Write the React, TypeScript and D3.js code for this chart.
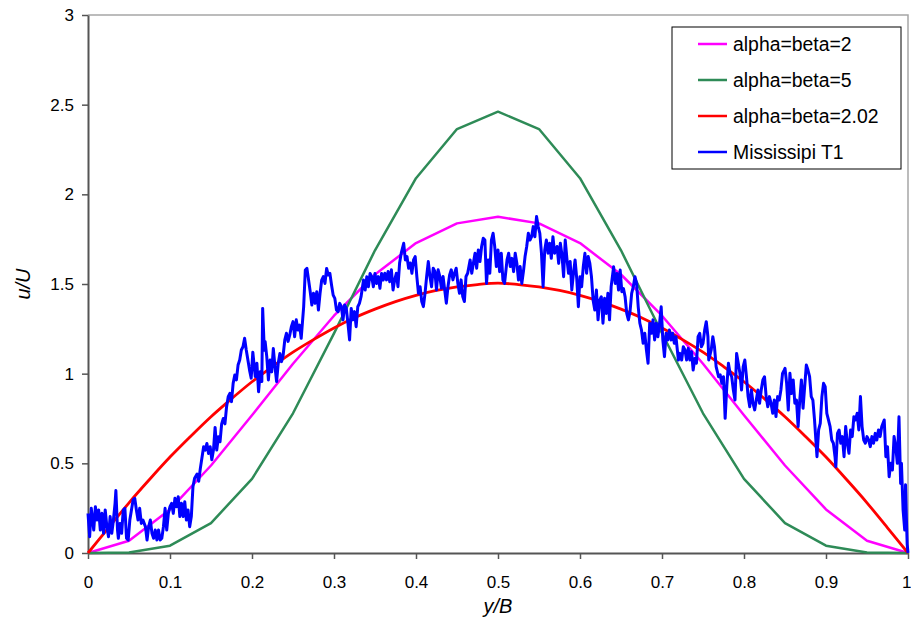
import * as d3 from "d3";
import { useEffect, useRef } from "react";

// beta profiles, read at the points they were plotted on
const betaX = [0, 0.05, 0.1, 0.15, 0.2, 0.25, 0.3, 0.35, 0.4, 0.45, 0.5, 0.55, 0.6, 0.65, 0.7, 0.75, 0.8, 0.85, 0.9, 0.95, 1];
const alpha2 = [0, 0.068, 0.243, 0.488, 0.768, 1.055, 1.323, 1.553, 1.728, 1.838, 1.875, 1.838, 1.728, 1.553, 1.323, 1.055, 0.768, 0.488, 0.243, 0.068, 0];
const alpha5 = [0, 0.003, 0.041, 0.167, 0.413, 0.779, 1.225, 1.688, 2.09, 2.364, 2.461, 2.364, 2.09, 1.688, 1.225, 0.779, 0.413, 0.167, 0.041, 0.003, 0];

const fitX = [0, 0.025, 0.05, 0.075, 0.1, 0.125, 0.15, 0.175, 0.2, 0.225, 0.25, 0.275, 0.3, 0.325, 0.35, 0.375, 0.4, 0.425, 0.45, 0.475, 0.5,
  0.525, 0.55, 0.575, 0.6, 0.625, 0.65, 0.675, 0.7, 0.725, 0.75, 0.775, 0.8, 0.825, 0.85, 0.875, 0.9, 0.925, 0.95, 0.975, 1];
const alpha202 = [0, 0.14, 0.28, 0.41, 0.535, 0.65, 0.76, 0.86, 0.955, 1.04, 1.12, 1.19, 1.255, 1.312, 1.36, 1.402, 1.437, 1.464, 1.484, 1.497, 1.505,
  1.497, 1.484, 1.464, 1.437, 1.402, 1.36, 1.312, 1.255, 1.19, 1.12, 1.04, 0.955, 0.86, 0.76, 0.65, 0.535, 0.41, 0.28, 0.14, 0];

// measured profile [y/B, u/U]
const mississippi: [number, number][] = [
  [0, 0.221], [0.002, 0.091], [0.004, 0.249], [0.007, 0.128], [0.009, 0.258], [0.011, 0.184], [0.013, 0.24], [0.015, 0.128], [0.017, 0.221], [0.019, 0.11],
  [0.021, 0.24], [0.023, 0.147], [0.025, 0.091], [0.027, 0.203], [0.029, 0.11], [0.031, 0.184], [0.033, 0.277], [0.034, 0.348], [0.036, 0.128], [0.037, 0.082],
  [0.039, 0.165], [0.041, 0.11], [0.043, 0.24], [0.045, 0.249], [0.047, 0.082], [0.049, 0.072], [0.051, 0.184], [0.053, 0.24], [0.055, 0.296], [0.057, 0.305],
  [0.059, 0.24], [0.061, 0.184], [0.063, 0.249], [0.065, 0.165], [0.067, 0.184], [0.07, 0.147], [0.072, 0.072], [0.074, 0.147], [0.076, 0.184], [0.078, 0.11],
  [0.08, 0.082], [0.082, 0.128], [0.084, 0.072], [0.086, 0.128], [0.088, 0.072], [0.09, 0.082], [0.092, 0.147], [0.094, 0.249], [0.096, 0.128], [0.098, 0.221],
  [0.1, 0.258], [0.102, 0.277], [0.104, 0.221], [0.106, 0.305], [0.108, 0.258], [0.11, 0.314], [0.112, 0.203], [0.114, 0.277], [0.116, 0.203], [0.118, 0.286],
  [0.12, 0.184], [0.122, 0.24], [0.124, 0.147], [0.126, 0.203], [0.128, 0.37], [0.13, 0.417], [0.133, 0.44], [0.135, 0.4],
  [0.137, 0.472], [0.141, 0.593], [0.143, 0.574], [0.145, 0.611], [0.147, 0.555], [0.149, 0.593], [0.151, 0.52], [0.153, 0.574], [0.155, 0.7], [0.157, 0.574],
  [0.159, 0.648], [0.161, 0.62], [0.163, 0.72], [0.165, 0.75], [0.167, 0.72], [0.169, 0.816], [0.171, 0.872], [0.173, 0.89], [0.175, 0.844], [0.177, 0.946],
  [0.179, 0.993], [0.181, 0.965], [0.183, 1.048], [0.185, 1.076], [0.187, 1.132], [0.189, 1.15], [0.191, 1.197], [0.193, 1.132], [0.195, 1.076], [0.197, 1.02],
  [0.199, 0.975], [0.201, 1.12], [0.204, 0.984], [0.206, 1.058], [0.208, 0.899], [0.21, 1.01], [0.212, 0.956], [0.213, 1.364], [0.215, 1.13], [0.216, 1.18],
  [0.218, 1.095], [0.22, 0.965], [0.222, 1.076], [0.224, 1.01], [0.226, 1.14], [0.228, 1.04], [0.23, 0.956], [0.232, 1.058], [0.234, 1.113], [0.236, 1.067],
  [0.238, 1.104], [0.24, 1.188], [0.242, 1.225], [0.244, 1.18], [0.246, 1.215], [0.248, 1.262], [0.25, 1.29], [0.252, 1.206], [0.254, 1.3], [0.256, 1.243],
  [0.258, 1.271], [0.26, 1.197], [0.263, 1.373], [0.265, 1.578], [0.267, 1.587], [0.269, 1.522], [0.271, 1.457], [0.273, 1.383], [0.275, 1.448], [0.277, 1.392],
  [0.279, 1.457], [0.281, 1.355], [0.283, 1.448], [0.285, 1.522], [0.287, 1.541], [0.289, 1.503], [0.291, 1.587], [0.293, 1.55], [0.295, 1.559], [0.297, 1.494],
  [0.299, 1.438], [0.301, 1.42], [0.303, 1.355], [0.305, 1.346], [0.307, 1.392], [0.309, 1.373], [0.311, 1.3], [0.313, 1.383], [0.315, 1.364], [0.317, 1.281],
  [0.319, 1.188], [0.321, 1.364], [0.323, 1.3], [0.325, 1.346], [0.327, 1.262], [0.329, 1.373], [0.331, 1.392], [0.333, 1.429], [0.336, 1.522], [0.338, 1.466],
  [0.34, 1.541], [0.342, 1.485], [0.344, 1.559], [0.346, 1.541], [0.348, 1.485], [0.35, 1.559], [0.352, 1.503], [0.354, 1.541], [0.356, 1.476], [0.358, 1.559],
  [0.36, 1.522], [0.362, 1.56], [0.364, 1.523], [0.366, 1.57], [0.368, 1.513], [0.37, 1.579], [0.372, 1.467], [0.374, 1.523], [0.376, 1.56], [0.378, 1.485],
  [0.38, 1.617], [0.382, 1.672], [0.385, 1.727], [0.387, 1.634], [0.389, 1.653], [0.391, 1.588], [0.393, 1.617], [0.395, 1.56], [0.397, 1.634], [0.399, 1.653],
  [0.401, 1.542], [0.403, 1.448], [0.405, 1.485], [0.407, 1.402], [0.409, 1.374], [0.411, 1.448], [0.413, 1.542], [0.415, 1.625], [0.417, 1.542], [0.419, 1.485],
  [0.421, 1.588], [0.423, 1.57], [0.425, 1.467], [0.427, 1.579], [0.429, 1.542], [0.431, 1.476], [0.433, 1.542], [0.435, 1.467], [0.437, 1.393], [0.439, 1.485],
  [0.441, 1.551], [0.443, 1.579], [0.445, 1.523], [0.447, 1.56], [0.449, 1.588], [0.451, 1.504], [0.453, 1.448], [0.455, 1.523], [0.457, 1.43], [0.459, 1.402],
  [0.461, 1.542], [0.463, 1.56], [0.466, 1.634], [0.468, 1.56], [0.47, 1.617], [0.472, 1.672], [0.474, 1.588], [0.476, 1.69], [0.478, 1.625], [0.48, 1.709],
  [0.482, 1.755], [0.484, 1.745], [0.486, 1.503], [0.488, 1.634], [0.49, 1.56], [0.492, 1.745], [0.494, 1.783], [0.496, 1.709], [0.498, 1.597], [0.5, 1.69],
  [0.502, 1.569], [0.504, 1.672], [0.506, 1.522], [0.508, 1.503], [0.511, 1.634], [0.513, 1.672], [0.515, 1.597], [0.517, 1.643], [0.519, 1.569], [0.521, 1.672],
  [0.523, 1.615], [0.525, 1.522], [0.527, 1.597], [0.529, 1.503], [0.531, 1.569], [0.533, 1.653], [0.535, 1.709], [0.537, 1.783], [0.539, 1.745], [0.541, 1.764],
  [0.543, 1.82], [0.545, 1.764], [0.547, 1.876], [0.549, 1.82], [0.551, 1.783], [0.553, 1.672], [0.555, 1.485], [0.557, 1.69], [0.559, 1.745], [0.561, 1.672],
  [0.563, 1.727], [0.565, 1.643], [0.567, 1.764], [0.569, 1.672], [0.572, 1.709], [0.574, 1.615], [0.576, 1.727], [0.578, 1.662], [0.58, 1.541], [0.582, 1.745],
  [0.584, 1.643], [0.586, 1.56], [0.588, 1.625], [0.59, 1.467], [0.592, 1.56], [0.594, 1.634], [0.596, 1.532], [0.598, 1.373], [0.6, 1.541], [0.602, 1.485],
  [0.604, 1.597], [0.606, 1.671], [0.608, 1.56], [0.61, 1.653], [0.612, 1.615], [0.614, 1.54], [0.616, 1.41], [0.618, 1.355], [0.62, 1.466], [0.622, 1.3],
  [0.624, 1.41], [0.626, 1.429], [0.628, 1.281], [0.63, 1.42], [0.632, 1.336], [0.634, 1.448], [0.636, 1.3], [0.638, 1.485], [0.641, 1.596], [0.643, 1.503],
  [0.645, 1.559], [0.647, 1.466], [0.649, 1.578], [0.651, 1.457], [0.653, 1.475], [0.655, 1.429], [0.657, 1.336], [0.659, 1.3], [0.661, 1.346], [0.663, 1.448],
  [0.665, 1.485], [0.667, 1.541], [0.669, 1.503], [0.671, 1.373], [0.673, 1.281], [0.675, 1.243], [0.677, 1.169], [0.679, 1.225], [0.681, 1.132], [0.683, 1.058],
  [0.685, 1.281], [0.687, 1.225], [0.689, 1.3], [0.691, 1.188], [0.693, 1.281], [0.695, 1.206], [0.697, 1.281], [0.699, 1.373], [0.701, 1.188], [0.703, 1.095],
  [0.705, 1.225], [0.707, 1.188], [0.709, 1.243], [0.711, 1.188], [0.713, 1.225], [0.715, 1.169], [0.717, 1.206], [0.72, 1.076], [0.722, 1.113], [0.724, 1.076],
  [0.726, 1.15], [0.728, 1.132], [0.73, 1.076], [0.732, 1.141], [0.734, 1.076], [0.736, 1.123], [0.738, 1.02], [0.74, 1.085], [0.742, 1.058], [0.744, 1.206],
  [0.746, 1.225], [0.748, 1.15], [0.75, 1.169], [0.752, 1.243], [0.754, 1.29], [0.756, 1.206], [0.757, 1.076], [0.76, 1.132], [0.762, 1.206], [0.764, 1.15],
  [0.766, 1.039], [0.769, 0.983], [0.771, 0.993], [0.773, 0.946], [0.775, 0.983], [0.777, 0.751], [0.779, 0.928], [0.781, 1.058], [0.783, 1.002], [0.785, 0.983],
  [0.787, 0.909], [0.789, 0.853], [0.791, 1.113], [0.793, 1.058], [0.795, 1.002], [0.797, 0.909], [0.799, 1.039], [0.801, 1.076], [0.803, 0.983], [0.805, 0.872],
  [0.807, 0.816], [0.809, 0.909], [0.811, 0.835], [0.813, 0.798], [0.815, 0.853], [0.817, 0.909], [0.819, 0.835], [0.821, 0.909], [0.823, 0.965], [0.825, 0.983],
  [0.827, 0.872], [0.829, 0.816], [0.831, 0.872], [0.833, 0.835], [0.835, 0.779], [0.837, 0.853], [0.839, 0.761], [0.841, 0.872], [0.843, 0.853], [0.845, 0.909],
  [0.847, 1.002], [0.849, 1.02], [0.85, 1.03], [0.852, 0.946], [0.854, 0.797], [0.856, 1.002], [0.858, 0.89], [0.86, 0.965], [0.862, 0.835], [0.864, 0.853],
  [0.866, 0.705], [0.868, 0.853], [0.87, 0.965], [0.872, 0.807], [0.874, 0.928], [0.876, 1.048], [0.878, 1.02], [0.88, 0.983], [0.882, 0.872], [0.884, 0.853],
  [0.886, 0.742], [0.889, 0.537], [0.891, 0.686], [0.893, 0.723], [0.895, 0.872], [0.897, 0.946], [0.899, 0.928], [0.901, 0.779], [0.903, 0.742], [0.905, 0.705],
  [0.907, 0.63], [0.909, 0.612], [0.911, 0.537], [0.912, 0.481], [0.914, 0.667], [0.916, 0.686], [0.918, 0.612], [0.92, 0.649], [0.922, 0.537], [0.924, 0.705],
  [0.926, 0.612], [0.928, 0.556], [0.93, 0.686], [0.932, 0.649], [0.934, 0.76], [0.936, 0.742], [0.938, 0.779], [0.94, 0.686], [0.942, 0.872], [0.944, 0.705],
  [0.946, 0.63], [0.948, 0.612], [0.95, 0.649], [0.952, 0.63], [0.954, 0.593], [0.956, 0.649], [0.958, 0.612], [0.96, 0.667], [0.962, 0.63], [0.964, 0.686],
  [0.966, 0.649], [0.968, 0.705], [0.971, 0.742], [0.973, 0.537], [0.975, 0.593], [0.977, 0.425], [0.979, 0.5], [0.981, 0.463], [0.983, 0.649], [0.985, 0.593],
  [0.987, 0.5], [0.989, 0.76], [0.991, 0.388], [0.992, 0.5], [0.994, 0.24], [0.996, 0.128], [0.997, 0.38], [0.998, 0.2], [0.999, 0.05], [1, 0],
];

const xTicks = [0, 0.1, 0.2, 0.3, 0.4, 0.5, 0.6, 0.7, 0.8, 0.9, 1];
const yTicks = [0, 0.5, 1, 1.5, 2, 2.5, 3];

const legendNames = ["alpha=beta=2", "alpha=beta=5", "alpha=beta=2.02", "Mississipi T1"];
const colors = ["#ff00ff", "#2e8b57", "#ff0000", "#0000ff"];

const FONT = "'Liberation Sans', Arial, sans-serif";

const App = () => {
  const ref = useRef<SVGSVGElement>(null);

  useEffect(() => {
    const W = 911, H = 621;
    const margin = { top: 15, right: 3, bottom: 68, left: 88 };
    const width = W - margin.left - margin.right;
    const height = H - margin.top - margin.bottom;

    const root = d3.select(ref.current);
    root.selectAll("*").remove();
    const svg = root.append("g").attr("transform", `translate(${margin.left},${margin.top})`);

    const x = d3.scaleLinear().domain([0, 1]).range([0, width]);
    const y = d3.scaleLinear().domain([0, 3]).range([height, 0]);

    // light frame top / right
    svg.append("path")
      .attr("d", `M0,0H${width}V${height}`)
      .attr("fill", "none")
      .attr("stroke", "#a6a6a6")
      .attr("stroke-width", 1.5);

    const xAxis = svg.append("g")
      .attr("transform", `translate(0,${height})`)
      .call(d3.axisBottom(x).tickValues(xTicks).tickSize(6).tickSizeOuter(0).tickPadding(17).tickFormat((d) => String(d)));
    const yAxis = svg.append("g")
      .call(d3.axisLeft(y).tickValues(yTicks).tickSize(6).tickSizeOuter(0).tickPadding(8).tickFormat((d) => String(d)));

    [xAxis, yAxis].forEach((a) => {
      a.select(".domain").attr("stroke", "#555").attr("stroke-width", 2);
      a.selectAll(".tick line").attr("stroke", "#555").attr("stroke-width", 1.5);
      a.selectAll(".tick text").attr("fill", "#000").style("font", `17px ${FONT}`);
    });
    // keep the last x label inside the picture
    xAxis.selectAll<SVGTextElement, number>(".tick text")
      .filter((d) => d === 1)
      .attr("text-anchor", "end")
      .attr("dx", 3);

    // series
    const line = d3.line<[number, number]>().x((d) => x(d[0])).y((d) => y(d[1]));
    const series: [number, number][][] = [
      betaX.map((v, i) => [v, alpha2[i]]),
      betaX.map((v, i) => [v, alpha5[i]]),
      fitX.map((v, i) => [v, alpha202[i]]),
      mississippi,
    ];
    const widths = [2.5, 2.5, 2.8, 3];

    series.forEach((s, i) => {
      svg.append("path")
        .datum(s)
        .attr("fill", "none")
        .attr("stroke", colors[i])
        .attr("stroke-width", widths[i])
        .attr("stroke-linejoin", "round")
        .attr("d", i === 2 ? line.curve(d3.curveMonotoneX)(s) : line.curve(d3.curveLinear)(s));
    });

    // axis titles
    svg.append("text")
      .attr("x", width / 2)
      .attr("y", height + 60)
      .attr("text-anchor", "middle")
      .style("font", `italic 20px ${FONT}`)
      .text("y/B");

    svg.append("text")
      .attr("transform", `translate(${30 - margin.left},${height / 2}) rotate(-90)`)
      .attr("text-anchor", "middle")
      .style("font", `italic 20px ${FONT}`)
      .text("u/U");

    // legend
    const legend = root.append("g").attr("transform", "translate(672,27)");
    legend.append("rect")
      .attr("width", 229)
      .attr("height", 142)
      .attr("fill", "#fff")
      .attr("stroke", "#000")
      .attr("stroke-width", 1);

    legendNames.forEach((name, i) => {
      const row = legend.append("g").attr("transform", `translate(0,${17 + i * 36})`);
      row.append("line")
        .attr("x1", 26).attr("x2", 55)
        .attr("stroke", colors[i])
        .attr("stroke-width", 2.5);
      row.append("text")
        .attr("x", 61)
        .attr("dy", "0.36em")
        .style("font", `19.4px ${FONT}`)
        .text(name);
    });
  }, []);

  return (
    <div style={{ position: "absolute", left: 0, top: 0 }}>
      <svg ref={ref} width={911} height={621} style={{ display: "block", background: "#fff" }} />
    </div>
  );
};

export default App;
